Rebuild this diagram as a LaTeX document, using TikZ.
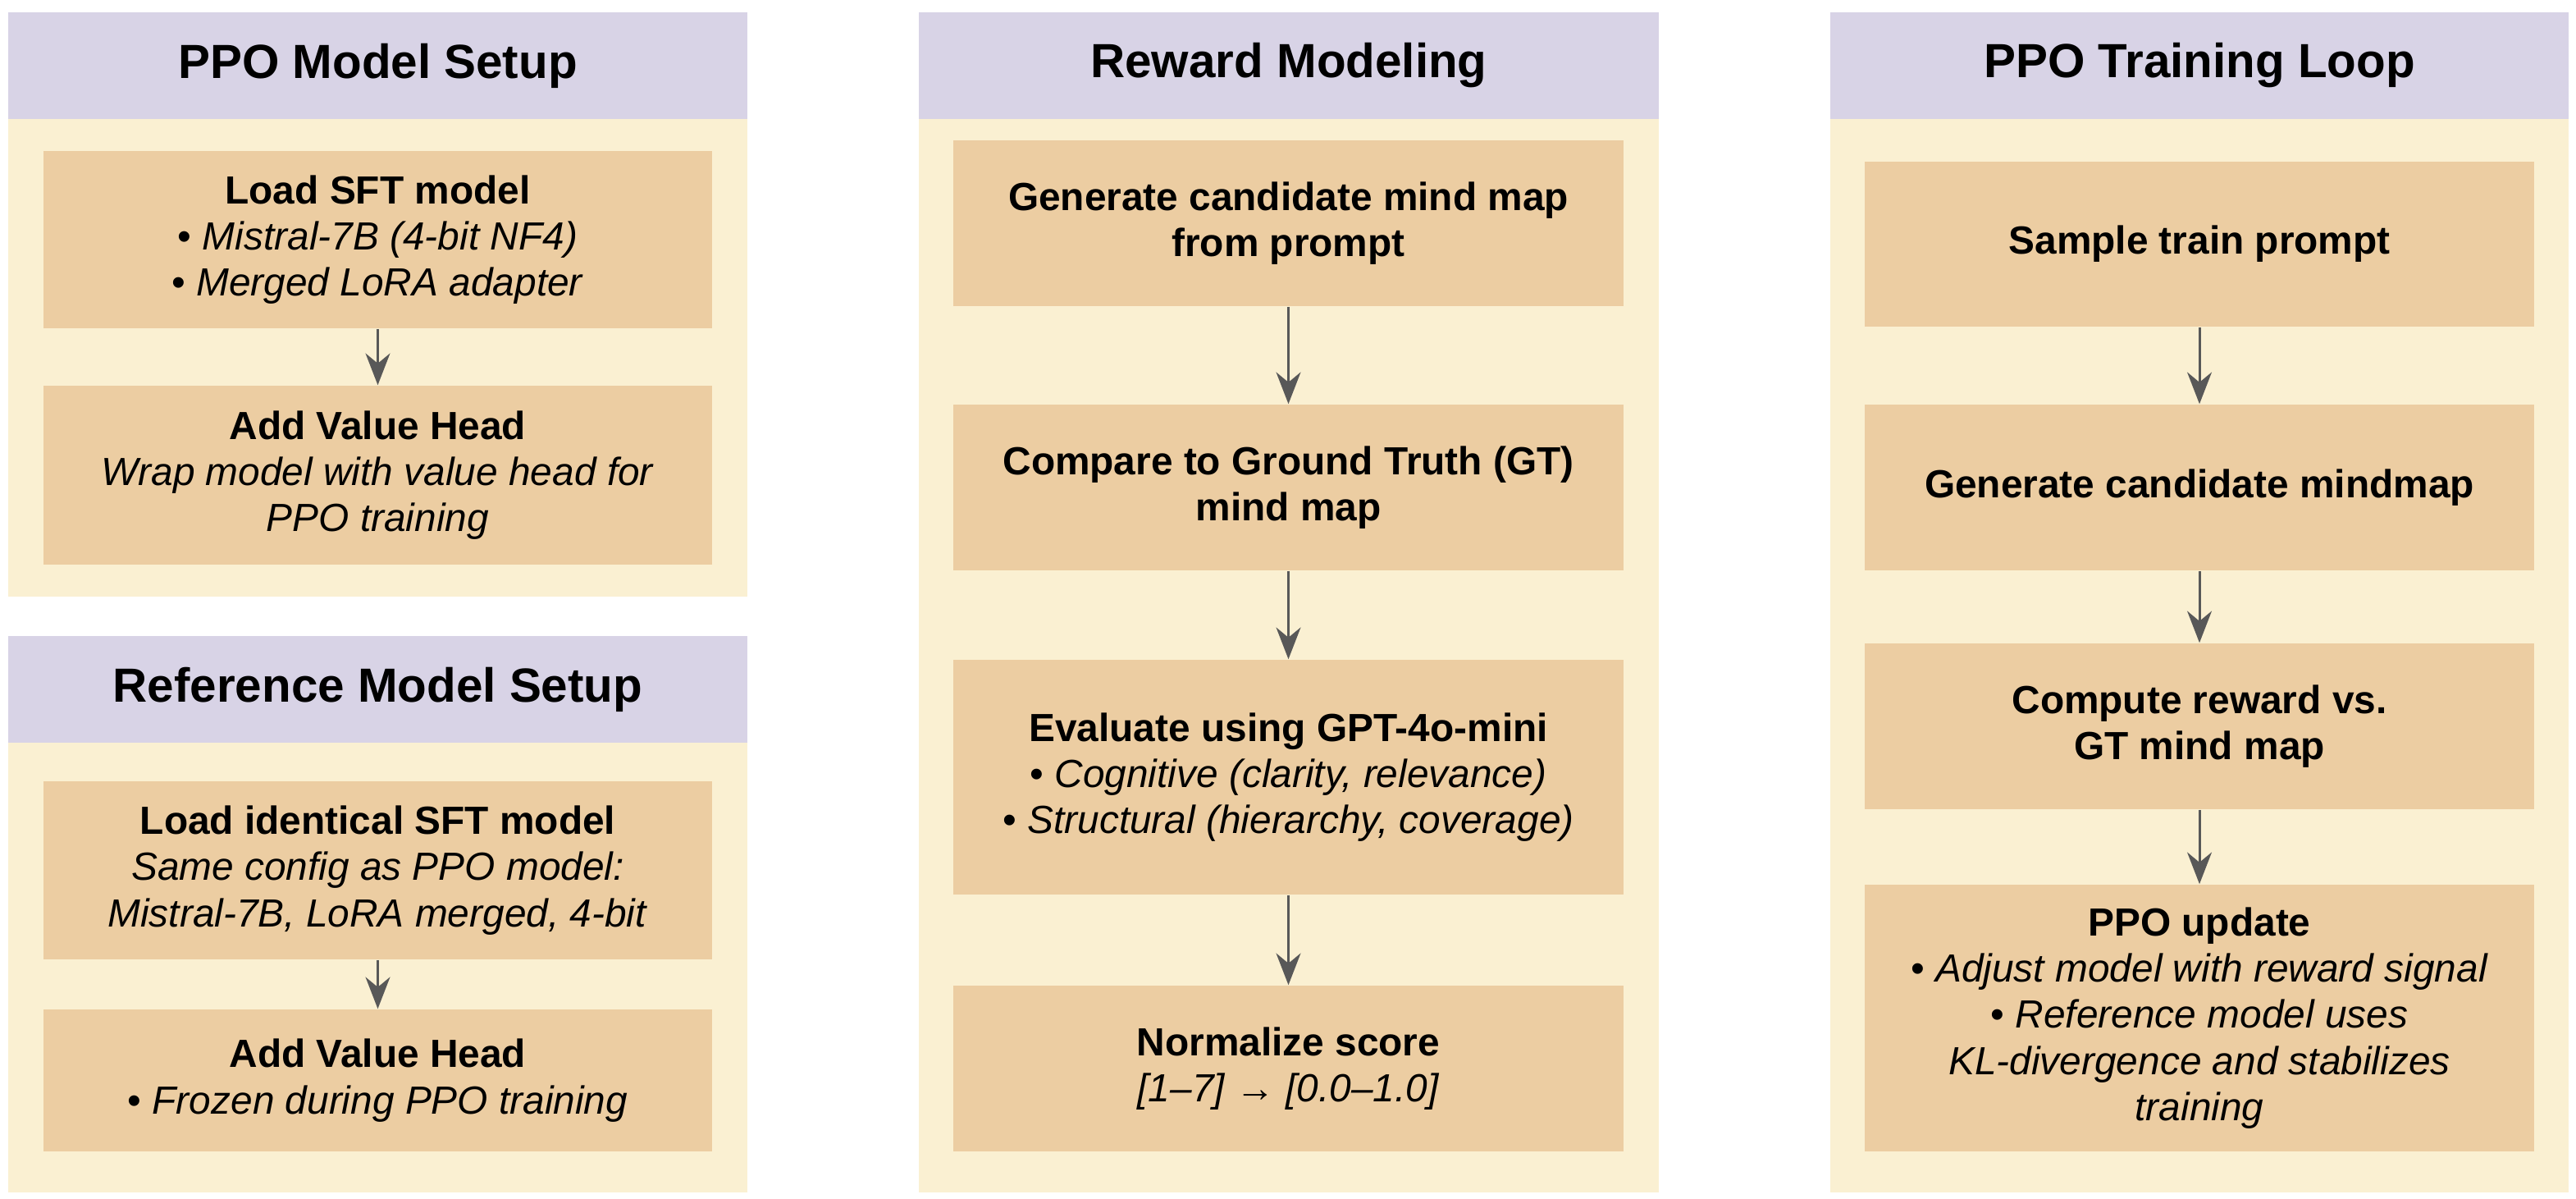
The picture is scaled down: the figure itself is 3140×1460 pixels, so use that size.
\documentclass[tikz,border=0pt]{standalone}
\usepackage{fontspec}
\setmainfont{Liberation Sans}
\usetikzlibrary{arrows.meta}
\definecolor{hdr}{RGB}{216,211,230}
\definecolor{pnl}{RGB}{250,240,210}
\definecolor{bx}{RGB}{236,205,162}
\definecolor{arr}{RGB}{88,88,88}
\begin{document}
\begin{tikzpicture}[x=0.01cm,y=-0.01cm,
  panel/.style={fill=pnl, draw=none, inner sep=0pt},
  header/.style={fill=hdr, inner sep=0pt, font=\fontsize{16.6}{20}\selectfont\bfseries},
  stepbox/.style={fill=bx, inner sep=0pt, align=center, font=\fontsize{13.6}{16}\selectfont},
  flow/.style={draw=arr, line width=0.85pt, -{Stealth[length=11pt,width=8.5pt,inset=3.5pt]}}
]
\useasboundingbox (0,0) rectangle (3140,1460);
\fill[white] (0,0) rectangle (3140,1460);

% Panel A: PPO Model Setup
\node[panel, minimum width=9.01cm, minimum height=7.12cm] (pA) at (460.5,371) {};
\node[header, minimum width=9.01cm, minimum height=1.30cm] (hA) at (460.5,80) {PPO Model Setup};
\node[stepbox, minimum width=8.15cm, minimum height=2.16cm] (a1) at (460.5,292)
  {\textbf{Load SFT model}\\• \textit{Mistral-7B (4-bit NF4)}\\• \textit{Merged LoRA adapter}};
\node[stepbox, minimum width=8.15cm, minimum height=2.18cm] (a2) at (460.5,579)
  {\textbf{Add Value Head}\\\textit{Wrap model with value head for}\\\textit{PPO training}};
\draw[flow] (a1) -- (a2);

% Panel B: Reference Model Setup
\node[panel, minimum width=9.01cm, minimum height=6.78cm] (pB) at (460.5,1114) {};
\node[header, minimum width=9.01cm, minimum height=1.30cm] (hB) at (460.5,840) {Reference Model Setup};
\node[stepbox, minimum width=8.15cm, minimum height=2.17cm] (b1) at (460.5,1060.5)
  {\textbf{Load identical SFT model}\\\textit{Same config as PPO model:}\\\textit{Mistral-7B, LoRA merged, 4-bit}};
\node[stepbox, minimum width=8.15cm, minimum height=1.73cm] (b2) at (460.5,1316.5)
  {\textbf{Add Value Head}\\• \textit{Frozen during PPO training}};
\draw[flow] (b1) -- (b2);

% Panel C: Reward Modeling
\node[panel, minimum width=9.02cm, minimum height=14.38cm] (pC) at (1571,734) {};
\node[header, minimum width=9.02cm, minimum height=1.30cm] (hC) at (1571,80) {Reward Modeling};
\node[stepbox, minimum width=8.17cm, minimum height=2.02cm] (c1) at (1570.5,272)
  {\textbf{Generate candidate mind map}\\\textbf{from prompt}};
\node[stepbox, minimum width=8.17cm, minimum height=2.02cm] (c2) at (1570.5,594)
  {\textbf{Compare to Ground Truth (GT)}\\\textbf{mind map}};
\node[stepbox, minimum width=8.17cm, minimum height=2.86cm] (c3) at (1570.5,947)
  {\textbf{Evaluate using GPT-4o-mini}\\• \textit{Cognitive (clarity, relevance)}\\• \textit{Structural (hierarchy, coverage)}};
\node[stepbox, minimum width=8.17cm, minimum height=2.02cm] (c4) at (1570.5,1302)
  {\textbf{Normalize score}\\\textit{[1–7] → [0.0–1.0]}};
\draw[flow] (c1) -- (c2);
\draw[flow] (c2) -- (c3);
\draw[flow] (c3) -- (c4);

% Panel D: PPO Training Loop
\node[panel, minimum width=9.00cm, minimum height=14.38cm] (pD) at (2681,734) {};
\node[header, minimum width=9.00cm, minimum height=1.30cm] (hD) at (2681,80) {PPO Training Loop};
\node[stepbox, minimum width=8.16cm, minimum height=2.01cm] (d1) at (2681,297.5)
  {\textbf{Sample train prompt}};
\node[stepbox, minimum width=8.16cm, minimum height=2.02cm] (d2) at (2681,594)
  {\textbf{Generate candidate mindmap}};
\node[stepbox, minimum width=8.16cm, minimum height=2.02cm] (d3) at (2681,885)
  {\textbf{Compute reward vs.}\\\textbf{GT mind map}};
\node[stepbox, minimum width=8.16cm, minimum height=3.25cm] (d4) at (2681,1240.5)
  {\textbf{PPO update}\\• \textit{Adjust model with reward signal}\\• \textit{Reference model uses}\\\textit{KL-divergence and stabilizes}\\\textit{training}};
\draw[flow] (d1) -- (d2);
\draw[flow] (d2) -- (d3);
\draw[flow] (d3) -- (d4);
\end{tikzpicture}
\end{document}
